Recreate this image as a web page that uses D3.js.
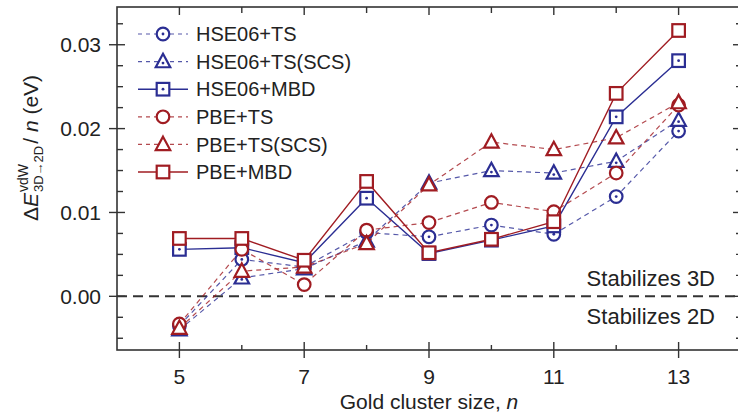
<!DOCTYPE html>
<html>
<head>
<meta charset="utf-8">
<script src="https://cdn.jsdelivr.net/npm/d3@7"></script>
<style>
  body { margin: 0; background: #fff; }
  svg { display: block; font-family: "Liberation Sans", Arial, sans-serif; }
</style>
</head>
<body>
<svg width="738" height="413"></svg>
<script>
// cluster sizes and energies (eV per atom)
const nValues = [5, 6, 7, 8, 9, 10, 11, 12, 13];
const hseTS    = [-0.0035, 0.0044, 0.0035, 0.0076, 0.0071, 0.0085, 0.0074, 0.0119, 0.0197];
const hseTSSCS = [-0.0040, 0.0022, 0.0033, 0.0066, 0.0135, 0.0150, 0.0147, 0.0161, 0.0210];
const hseMBD   = [0.0056, 0.0058, 0.0040, 0.0117, 0.0051, 0.0067, 0.0084, 0.0214, 0.0281];
const pbeTS    = [-0.0033, 0.0056, 0.0014, 0.0079, 0.0088, 0.0112, 0.0101, 0.0147, 0.0228];
const pbeTSSCS = [-0.0038, 0.0030, 0.0035, 0.0063, 0.0133, 0.0184, 0.0175, 0.0189, 0.0231];
const pbeMBD   = [0.0069, 0.0069, 0.0043, 0.0137, 0.0052, 0.0068, 0.0089, 0.0242, 0.0317];

const seriesNames = ["HSE06+TS", "HSE06+TS(SCS)", "HSE06+MBD", "PBE+TS", "PBE+TS(SCS)", "PBE+MBD"];
const xTickLabels = [5, 7, 9, 11, 13];
const yTickLabels = [0.00, 0.01, 0.02, 0.03];

const blue = "#2b2e93", red = "#a01c22";
const series = [
  { name: seriesNames[0], values: hseTS,    color: blue, shape: "circle",   dashed: true,  dot: true },
  { name: seriesNames[1], values: hseTSSCS, color: blue, shape: "triangle", dashed: true,  dot: true },
  { name: seriesNames[2], values: hseMBD,   color: blue, shape: "square",   dashed: false, dot: true },
  { name: seriesNames[3], values: pbeTS,    color: red,  shape: "circle",   dashed: true,  dot: false },
  { name: seriesNames[4], values: pbeTSSCS, color: red,  shape: "triangle", dashed: true,  dot: false },
  { name: seriesNames[5], values: pbeMBD,   color: red,  shape: "square",   dashed: false, dot: false }
];

const svg = d3.select("svg");
const mLeft = 117, mRight = 741, mTop = 7, mBottom = 350;

const x = d3.scaleLinear().domain([4, 14]).range([mLeft, mRight]);
const y = d3.scaleLinear().domain([-0.0064, 0.0345]).range([mBottom, mTop]);

const axisColor = "#333";

// zero line
svg.append("line")
  .attr("x1", mLeft).attr("x2", mRight)
  .attr("y1", y(0)).attr("y2", y(0))
  .attr("stroke", "#333").attr("stroke-width", 2)
  .attr("stroke-dasharray", "10,6");

svg.append("text").attr("x", 715).attr("y", 286)
  .attr("text-anchor", "end").style("font-size", "22px").attr("fill", "#222")
  .text("Stabilizes 3D");
svg.append("text").attr("x", 715).attr("y", 324)
  .attr("text-anchor", "end").style("font-size", "22px").attr("fill", "#222")
  .text("Stabilizes 2D");

// frame
svg.append("rect")
  .attr("x", mLeft).attr("y", mTop)
  .attr("width", mRight - mLeft).attr("height", mBottom - mTop)
  .attr("fill", "none").attr("stroke", axisColor).attr("stroke-width", 1.6);

// ticks
const xMajor = xTickLabels, xMinor = [6, 8, 10, 12];
const yMajor = yTickLabels, yMinor = [-0.005, -0.0025, 0.0025, 0.005, 0.0075, 0.0125, 0.015, 0.0175, 0.0225, 0.025, 0.0275, 0.0325];
const tk = svg.append("g").attr("stroke", axisColor).attr("stroke-width", 1.4);

xMajor.forEach(v => {
  tk.append("line").attr("x1", x(v)).attr("x2", x(v)).attr("y1", mBottom - 8).attr("y2", mBottom + 8);
  tk.append("line").attr("x1", x(v)).attr("x2", x(v)).attr("y1", mTop).attr("y2", mTop + 8);
});
xMinor.forEach(v => {
  tk.append("line").attr("x1", x(v)).attr("x2", x(v)).attr("y1", mBottom - 5).attr("y2", mBottom);
  tk.append("line").attr("x1", x(v)).attr("x2", x(v)).attr("y1", mTop).attr("y2", mTop + 6);
});
yMajor.forEach(v => {
  tk.append("line").attr("x1", mLeft - 8).attr("x2", mLeft + 8).attr("y1", y(v)).attr("y2", y(v));
  tk.append("line").attr("x1", mRight - 8).attr("x2", mRight).attr("y1", y(v)).attr("y2", y(v));
});
yMinor.forEach(v => {
  tk.append("line").attr("x1", mLeft).attr("x2", mLeft + 6).attr("y1", y(v)).attr("y2", y(v));
  tk.append("line").attr("x1", mRight - 5).attr("x2", mRight).attr("y1", y(v)).attr("y2", y(v));
});

// tick labels
svg.append("g").selectAll("text").data(xMajor).join("text")
  .attr("x", d => x(d)).attr("y", 384)
  .attr("text-anchor", "middle").style("font-size", "21px").attr("fill", "#222")
  .text(d => d);
svg.append("g").selectAll("text").data(yMajor).join("text")
  .attr("x", 101).attr("y", d => y(d)).attr("dy", "0.36em")
  .attr("text-anchor", "end").style("font-size", "21px").attr("fill", "#222")
  .text(d => d3.format(".2f")(d));

// x title
const xt = svg.append("text").attr("x", x(9)).attr("y", 409)
  .attr("text-anchor", "middle").style("font-size", "21px").attr("fill", "#222");
xt.append("tspan").text("Gold cluster size, ");
xt.append("tspan").style("font-style", "italic").text("n");

// y title built from pieces (stacked super/subscript)
const yt = svg.append("g").attr("transform", "translate(38,148) rotate(-90)").attr("fill", "#222");
const inner = yt.append("g");
const p1 = inner.append("text").style("font-size", "21px").attr("x", 0);
p1.append("tspan").text("Δ");
p1.append("tspan").style("font-style", "italic").text("E");
const w1 = p1.node().getComputedTextLength() + 1;
const sup = inner.append("text").style("font-size", "14px").attr("x", w1).attr("y", -10).text("vdW");
const sub = inner.append("text").style("font-size", "13px").attr("x", w1).attr("y", 5).text("3D\u21922D");
const w2 = w1 + Math.max(sup.node().getComputedTextLength(), sub.node().getComputedTextLength()) + 2;
const p2 = inner.append("text").style("font-size", "21px").attr("x", w2);
p2.append("tspan").text("/ ");
p2.append("tspan").style("font-style", "italic").text("n");
p2.append("tspan").text(" (eV)");
const total = w2 + p2.node().getComputedTextLength();
inner.attr("transform", `translate(${-total / 2},0)`);

// markers
function drawMarker(g, s, cx, cy) {
  const common = sel => sel.attr("fill", "#fff").attr("stroke", s.color).attr("stroke-width", 2.2);
  if (s.shape === "circle") {
    common(g.append("circle").attr("cx", cx).attr("cy", cy).attr("r", 6.3));
  } else if (s.shape === "square") {
    common(g.append("rect").attr("x", cx - 6.3).attr("y", cy - 6.3).attr("width", 12.6).attr("height", 12.6));
  } else {
    const h = 12.5, w = 14.5;
    common(g.append("path")
      .attr("d", `M${cx},${cy - h * 0.62}L${cx + w / 2},${cy + h * 0.45}L${cx - w / 2},${cy + h * 0.45}Z`)
      .attr("stroke-linejoin", "miter"));
  }
  if (s.dot) {
    g.append("circle").attr("cx", cx).attr("cy", cy + (s.shape === "triangle" ? 1.5 : 0))
      .attr("r", 1.4).attr("fill", s.color);
  }
}

const line = d3.line().x((d, i) => x(nValues[i])).y(d => y(d));

series.forEach(s => {
  const g = svg.append("g");
  g.append("path")
    .attr("d", line(s.values))
    .attr("fill", "none")
    .attr("stroke", s.color)
    .attr("stroke-opacity", s.dashed ? 0.8 : 1)
    .attr("stroke-width", s.dashed ? 1.2 : 1.4)
    .attr("stroke-dasharray", s.dashed ? "5,4" : null);
  s.values.forEach((v, i) => drawMarker(g, s, x(nValues[i]), y(v)));
});

// legend
const legY0 = 34, legStep = 27.6;
series.forEach((s, i) => {
  const yy = legY0 + i * legStep;
  const g = svg.append("g");
  g.append("line").attr("x1", 138).attr("x2", 188).attr("y1", yy).attr("y2", yy)
    .attr("stroke", s.color).attr("stroke-width", s.dashed ? 1.2 : 1.5)
    .attr("stroke-opacity", s.dashed ? 0.8 : 1)
    .attr("stroke-dasharray", s.dashed ? "4,4" : null);
  drawMarker(g, s, 163, yy);
  g.append("text").attr("x", 196).attr("y", yy).attr("dy", "0.36em")
    .style("font-size", "20px").attr("fill", "#222").text(s.name);
});
</script>
</body>
</html>
